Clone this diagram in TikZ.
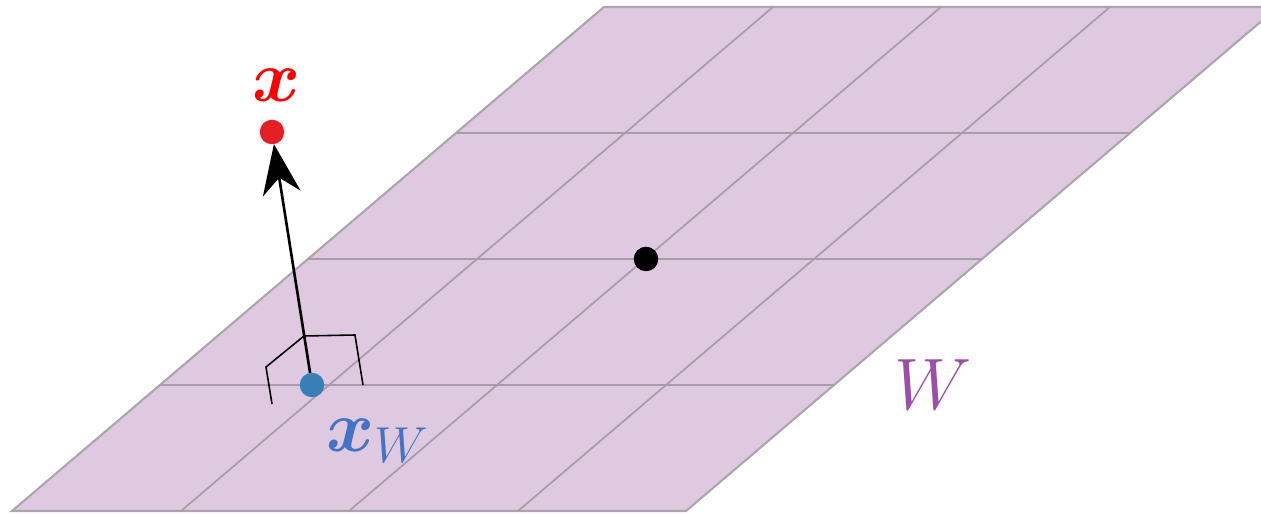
\documentclass[tikz,border=0pt]{standalone}
\usepackage{amsmath,amssymb,bm}
\usepackage{tikz}
\usetikzlibrary{arrows.meta}
\definecolor{plane}{HTML}{DFC9E1}
\definecolor{gridln}{HTML}{A79DA9}
\definecolor{edge}{HTML}{ABA6AC}
\definecolor{ptred}{HTML}{E31E24}
\definecolor{ptblue}{HTML}{3A7EB8}
\definecolor{lblblue}{HTML}{4472C4}
\definecolor{lblpurple}{HTML}{9C4FA9}

\begin{document}
\begin{tikzpicture}[x=1cm,y=1cm,>={Stealth[length=5mm,width=3.8mm,inset=1.6mm]},
  every node/.style={font=\fontsize{20}{24}\selectfont},
  dot/.style={circle,inner sep=0pt,outer sep=0pt,minimum size=2.45mm}]
  \clip (0,0) rectangle (12.61,5.14);
  % the plane W
  \draw[fill=plane,draw=edge,line width=0.6pt] (0.12,0.03)--(6.86,0.03)--(12.78,5.07)--(6.04,5.07)--cycle;
  \draw[draw=gridln,line width=0.5pt] (4.56,3.81)--(11.30,3.81);
  \draw[draw=gridln,line width=0.5pt] (3.08,2.55)--(9.82,2.55);
  \draw[draw=gridln,line width=0.5pt] (1.60,1.29)--(8.34,1.29);
  \draw[draw=gridln,line width=0.5pt] (1.81,0.03)--(7.73,5.07);
  \draw[draw=gridln,line width=0.5pt] (3.49,0.03)--(9.41,5.07);
  \draw[draw=gridln,line width=0.5pt] (5.18,0.03)--(11.10,5.07);
  % points
  \node[dot,fill=black] (origin) at (6.46,2.55) {};
  \node[dot,fill=ptblue] (xw) at (3.12,1.29) {};
  \node[dot,fill=ptred] (x) at (2.72,3.82) {};
  % right angle mark
  \draw[line width=0.45pt] (2.72,1.10)--(2.66,1.47)--(3.04,1.78)--(3.55,1.79)--(3.63,1.29);
  \draw[->,line width=0.75pt] (xw)--(x);
  % labels
  \node[text=red] (xlbl) at (2.77,4.29) {$\bm{x}$};
  \node[text=lblblue] (xwlbl) at (3.78,0.73) {$\bm{x}_{W}$};
  \node[text=lblpurple] (wlbl) at (9.33,1.29) {$W$};
\end{tikzpicture}
\end{document}
